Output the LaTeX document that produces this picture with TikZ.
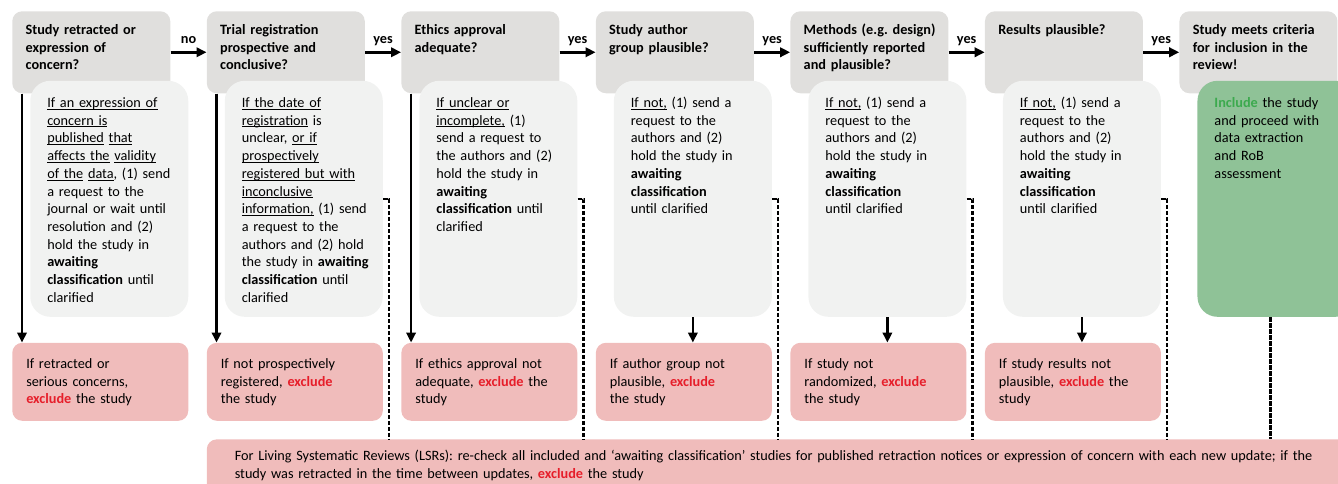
\documentclass[tikz,border=0pt]{standalone}
\usepackage{fontspec}
\setmainfont{Carlito}
\usetikzlibrary{arrows.meta, positioning}
\definecolor{qgray}{RGB}{224,223,221}
\definecolor{dgray}{RGB}{241,242,241}
\definecolor{exfill}{RGB}{240,188,187}
\definecolor{incfill}{RGB}{143,194,151}
\definecolor{exred}{RGB}{230,30,42}
\definecolor{incgreen}{RGB}{60,170,78}
\tikzstyle{leftset} = [execute at begin node={\raggedright\rightskip=0pt plus 1fil minus 25pt\relax\hyphenpenalty=10000\relax}]
\tikzstyle{question} = [leftset, fill=qgray, rounded corners=7.5pt, anchor=north west, inner xsep=10pt, inner ysep=8pt, text width=98.5pt, text height=9.25pt, text depth=36.25pt, font=\bfseries]
\tikzstyle{detail} = [leftset, fill=dgray, rounded corners=15pt, anchor=north west, inner xsep=12.75pt, inner ysep=10pt, text width=93pt, text height=9.9pt, text depth=147.1pt]
\tikzstyle{inclbox} = [detail, fill=incfill]
\tikzstyle{exclbox} = [leftset, fill=exfill, rounded corners=7.5pt, anchor=north west, inner xsep=10.5pt, inner ysep=8pt, text width=111pt, text height=11.1pt, text depth=31.4pt]
\tikzstyle{lsrbox} = [leftset, fill=exfill, rounded corners=7.5pt, anchor=north west, inner xsep=21pt, inner ysep=7pt, text width=870pt, text height=9.1pt, text depth=30pt]
\tikzstyle{arr} = [line width=2pt, -{Triangle[length=7.5pt, width=7pt]}]
\tikzstyle{recheck} = [line width=1.8pt, dash pattern=on 3.4pt off 1.1pt]
\tikzstyle{ans} = [above, font=\bfseries, inner sep=5.25pt, text depth=0pt]
\newcommand{\undl}[1]{\setbox0=\hbox{#1}\leavevmode\rlap{\rule[-1.6pt]{\wd0}{0.6pt}}\box0\relax}
\newcommand{\excl}{\textcolor{exred}{\textbf{exclude}}}
\newcommand{\incl}{\textcolor{incgreen}{\textbf{Include}}}

\begin{document}
\fontsize{10.7pt}{13.3pt}\selectfont\frenchspacing
\begin{tikzpicture}[x=0.75pt, y=-0.75pt]
    \useasboundingbox (0,0) rectangle (1338,483);
    % questions
    \node[question] (q1) at (12,11) {Study retracted or\\expression of\\concern?};
    \node[question, right=27pt of q1] (q2) {Trial registration\\prospective and\\conclusive?};
    \node[question, right=27pt of q2] (q3) {Ethics approval\\adequate?};
    \node[question, right=27pt of q3] (q4) {Study author\\group plausible?};
    \node[question, right=27pt of q4] (q5) {Methods (e.g. design)\\sufficiently reported\\and plausible?};
    \node[question, right=27pt of q5] (q6) {Results plausible?};
    \node[question, right=27pt of q6] (q7) {Study meets criteria\\for inclusion in the\\review!};
    % what to do when unclear
    \node[detail] (d1) at ([xshift=13.5pt, yshift=9.75pt]q1.south west) {\undl{If an expression of}\\\undl{concern is}\\\undl{published} \undl{that}\\\undl{affects the} \undl{validity}\\\undl{of the} \undl{data}, (1) send\\a request to the\\journal or wait until\\resolution and (2)\\hold the study in\\\textbf{awaiting}\\\textbf{classification} until\\clarified};
    \node[detail] (d2) at ([xshift=13.5pt, yshift=9.75pt]q2.south west) {\undl{If the date of}\\\undl{registration} is\\unclear, \undl{or if}\\\undl{prospectively}\\\undl{registered but with}\\\undl{inconclusive}\\\undl{information,} (1) send\\a request to the\\authors and (2) hold\\the study in \textbf{awaiting}\\\textbf{classification} until\\clarified};
    \node[detail] (d3) at ([xshift=13.5pt, yshift=9.75pt]q3.south west) {\undl{If unclear or}\\\undl{incomplete,} (1)\\send a request to\\the authors and (2)\\hold the study in\\\textbf{awaiting}\\\textbf{classification} until\\clarified};
    \node[detail] (d4) at ([xshift=13.5pt, yshift=9.75pt]q4.south west) {\undl{If not,} (1) send a\\request to the\\authors and (2)\\hold the study in\\\textbf{awaiting}\\\textbf{classification}\\until clarified};
    \node[detail] (d5) at ([xshift=13.5pt, yshift=9.75pt]q5.south west) {\undl{If not,} (1) send a\\request to the\\authors and (2)\\hold the study in\\\textbf{awaiting}\\\textbf{classification}\\until clarified};
    \node[detail] (d6) at ([xshift=13.5pt, yshift=9.75pt]q6.south west) {\undl{If not,} (1) send a\\request to the\\authors and (2)\\hold the study in\\\textbf{awaiting}\\\textbf{classification}\\until clarified};
    \node[inclbox] (inc) at ([xshift=13.5pt, yshift=9.75pt]q7.south west) {\incl{} the study\\and proceed with\\data extraction\\and RoB\\assessment};
    % exclusion
    \node[exclbox] (x1) at ([yshift=-186.75pt]q1.south west) {If retracted or\\serious concerns,\\\excl{} the study};
    \node[exclbox] (x2) at ([yshift=-186.75pt]q2.south west) {If not prospectively\\registered, \excl\\the study};
    \node[exclbox] (x3) at ([yshift=-186.75pt]q3.south west) {If ethics approval not\\adequate, \excl{} the\\study};
    \node[exclbox] (x4) at ([yshift=-186.75pt]q4.south west) {If author group not\\plausible, \excl\\the study};
    \node[exclbox] (x5) at ([yshift=-186.75pt]q5.south west) {If study not\\randomized, \excl\\the study};
    \node[exclbox] (x6) at ([yshift=-186.75pt]q6.south west) {If study results not\\plausible, \excl{} the\\study};
    \node[lsrbox] (lsr) at ([yshift=-13.5pt]x2.south west) {For Living Systematic Reviews (LSRs): re-check all included and ‘awaiting classification’ studies for published retraction notices or expression of concern with each new update; if the\\study was retracted in the time between updates, \excl{} the study};
    % flow
    \draw[arr] (q1) -- node[ans] {no} (q2);
    \draw[arr] (q2) -- node[ans] {yes} (q3);
    \draw[arr] (q3) -- node[ans] {yes} (q4);
    \draw[arr] (q4) -- node[ans] {yes} (q5);
    \draw[arr] (q5) -- node[ans] {yes} (q6);
    \draw[arr] (q6) -- node[ans] {yes} (q7);
    \draw[arr] ([xshift=7.5pt]q1.south west) -- ([xshift=7.5pt]x1.north west);
    \draw[arr] ([xshift=7.5pt]q2.south west) -- ([xshift=7.5pt]x2.north west);
    \draw[arr] ([xshift=7.5pt]q3.south west) -- ([xshift=7.5pt]x3.north west);
    \draw[arr] (d4.south) -- (d4.south |- x4.north);
    \draw[arr] (d5.south) -- (d5.south |- x5.north);
    \draw[arr] (d6.south) -- (d6.south |- x6.north);
    % re-check for LSRs
    \draw[recheck] (d2.east) -| ([xshift=4.5pt]d2.east |- lsr.north);
    \draw[recheck] (d3.east) -| ([xshift=4.5pt]d3.east |- lsr.north);
    \draw[recheck] (d4.east) -| ([xshift=4.5pt]d4.east |- lsr.north);
    \draw[recheck] (d5.east) -| ([xshift=4.5pt]d5.east |- lsr.north);
    \draw[recheck] (d6.east) -| ([xshift=4.5pt]d6.east |- lsr.north);
    \draw[recheck] ([xshift=-4.5pt]inc.south) -- ([xshift=-4.5pt]inc.south |- lsr.north);
\end{tikzpicture}
\end{document}
